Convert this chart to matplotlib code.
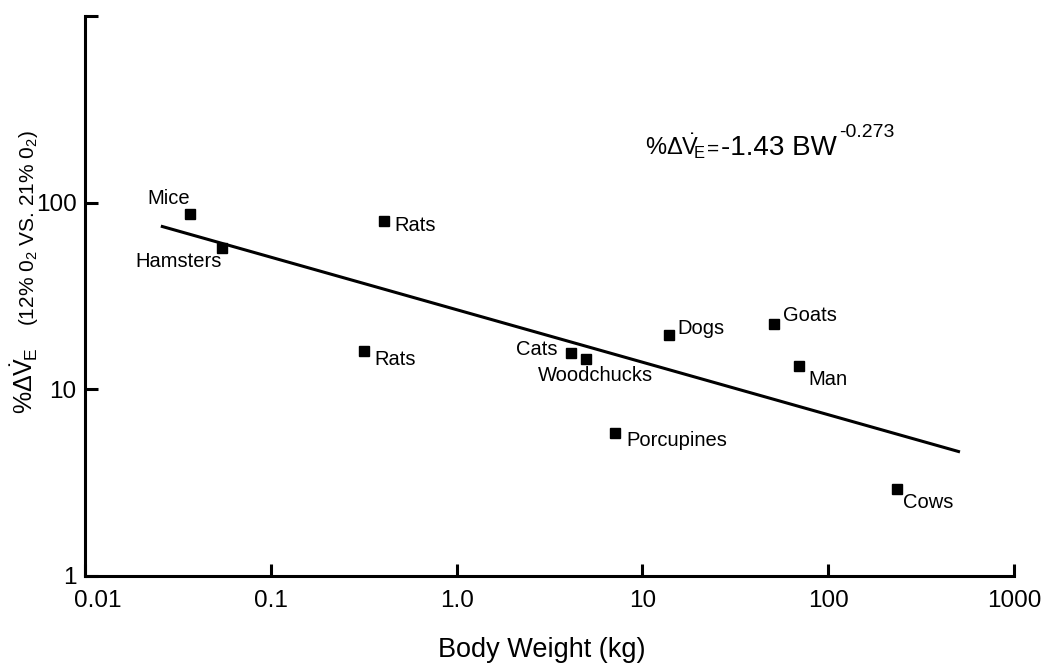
import matplotlib
matplotlib.use("Agg")
import matplotlib.pyplot as plt
import matplotlib.transforms as mtransforms

plt.rcParams['font.family'] = ['Liberation Sans', 'DejaVu Sans']
plt.rcParams['mathtext.fontset'] = 'custom'
plt.rcParams['mathtext.rm'] = 'Liberation Sans'
plt.rcParams['mathtext.it'] = 'Liberation Sans:italic'
plt.rcParams['mathtext.bf'] = 'Liberation Sans:bold'

# body weight (kg) and % change in ventilation
species = ["Mice", "Hamsters", "Rats", "Rats", "Cats", "Woodchucks",
           "Dogs", "Porcupines", "Goats", "Man", "Cows"]
body_weight = [0.0367, 0.0544, 0.406, 0.318, 4.14, 4.99,
               13.96, 7.15, 51.3, 70.0, 234.0]
delta_ve = [86.9, 57.3, 79.7, 16.0, 15.6, 14.5,
            19.5, 5.83, 22.4, 13.4, 2.91]

# regression line end points
fit_x = [0.0256, 512.0]
fit_y = [74.9, 4.62]

x_ticks = [0.01, 0.1, 1.0, 10, 100, 1000]
x_tick_labels = ["0.01", "0.1", "1.0", "10", "100", "1000"]
y_ticks = [1, 10, 100, 1000]
y_tick_labels = ["1", "10", "100", ""]

# label placement: (dx, dy) in pixels, horizontal alignment
label_pos = [(-21, 10, "center"), (-43, -19, "center"), (11, -10, "left"),
             (10, -14, "left"), (-14, -2, "right"), (9, -22, "center"),
             (8, 1, "left"), (11, -13, "left"), (9, 3, "left"),
             (9, -19, "left"), (6, -19, "left")]

W, H = 1043, 668
fig = plt.figure(figsize=(W / 100, H / 100), dpi=100)
ax = fig.add_axes([85 / W, (H - 576) / H, 929 / W, 560 / H])

ax.set_xscale("log")
ax.set_yscale("log")
ax.set_xlim(0.01, 1000)
ax.set_ylim(1, 1000)

ax.plot(fit_x, fit_y, color="black", lw=2.2, solid_capstyle="butt")
ax.plot(body_weight, delta_ve, ls="none", marker="s", ms=7.5,
        color="black", mec="black")

for name, bx, by, (dx, dy, ha) in zip(species, body_weight, delta_ve, label_pos):
    ax.annotate(name, (bx, by), xytext=(dx, dy), textcoords="offset pixels",
                ha=ha, va="baseline", fontsize=14.5)

ax.set_xticks(x_ticks)
ax.set_xticklabels(x_tick_labels)
ax.set_yticks(y_ticks)
ax.set_yticklabels(y_tick_labels)
ax.minorticks_off()
ax.tick_params(direction="in", length=9, width=2.2, labelsize=17.5, pad=10)
ax.tick_params(axis="y", pad=6)

# nudge the first x label off the corner like the original
first = ax.get_xticklabels()[0]
first.set_transform(first.get_transform() +
                    mtransforms.ScaledTranslation(13 / 100, 0, fig.dpi_scale_trans))

for side in ["top", "right"]:
    ax.spines[side].set_visible(False)
for side in ["left", "bottom"]:
    ax.spines[side].set_linewidth(2.2)

ax.set_xlabel("Body Weight (kg)", fontsize=19.5, labelpad=18)
ax.xaxis.label.set_x((542 - 85) / 929)

fig.text(34 / W, 1 - 381 / H, r"$\%\Delta\dot{\mathrm{V}}_{\!\mathrm{E}}$",
         rotation=90, rotation_mode="anchor", ha="center", va="baseline",
         fontsize=18)
fig.text(34 / W, 1 - 228 / H, r"(12% 0$_2$ VS. 21% 0$_2$)",
         rotation=90, rotation_mode="anchor", ha="center", va="baseline",
         fontsize=15)

# equation, built from pieces so spacing follows the original
fig.text(645 / W, 1 - 155 / H, r"$\%\Delta\dot{\mathrm{V}}_{\!\!\mathrm{E}}$",
         ha="left", va="baseline", fontsize=17)
fig.text(707 / W, 1 - 155 / H, "=", ha="left", va="baseline", fontsize=15)
fig.text(721 / W, 1 - 155 / H, "-1.43 BW", ha="left", va="baseline", fontsize=20)
fig.text(839 / W, 1 - 137 / H, "-0.273", ha="left", va="baseline", fontsize=14)

fig.savefig("out.png", dpi=100)
